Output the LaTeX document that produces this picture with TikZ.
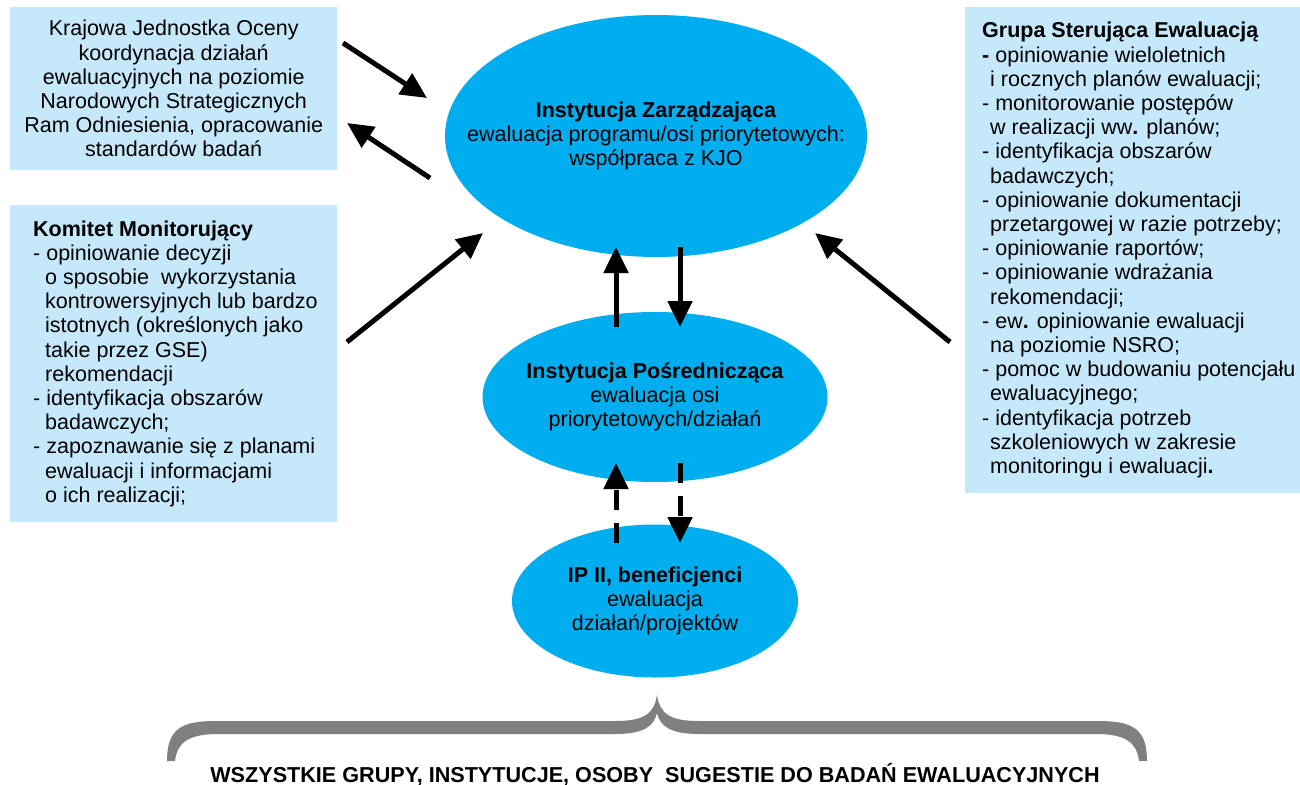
\documentclass[tikz,border=0pt]{standalone}
\usepackage{fontspec}
\setmainfont{Liberation Sans}
\usetikzlibrary{positioning,shapes.geometric,arrows.meta}
\tikzset{>=stealth}
\definecolor{zonecyan}{RGB}{0,174,239}
\definecolor{boxblue}{RGB}{197,232,250}
\definecolor{bracegray}{RGB}{128,128,128}
\tikzset{
  infobox/.style={fill=boxblue,inner sep=0pt,anchor=north west},
  zone/.style={ellipse,fill=zonecyan,inner sep=0pt},
  txt/.style={inner sep=0pt,font=\fontsize{21.5}{24.2}\selectfont},
  flow/.style={line width=5pt,-{Triangle[length=26pt,width=24pt]}},
  dflow/.style={flow,dash pattern=on 20pt off 13pt}
}
\newcommand{\indl}{\hspace*{12pt}}
\newcommand{\indr}{\hspace*{8pt}}

\begin{document}
\begin{tikzpicture}[x=1pt,y=-1pt]
\useasboundingbox (0,0) rectangle (1300,784);
\node[infobox,minimum width=327,minimum height=163] (kjo) at (10,7) {};
\node[txt,align=center] (kjotxt) at (kjo.center) {Krajowa Jednostka Oceny\\ koordynacja działań\\ ewaluacyjnych na poziomie\\ Narodowych Strategicznych\\ Ram Odniesienia, opracowanie\\ standardów badań};
\node[infobox,minimum width=327,minimum height=317] (km) at (10,205) {};
\node[txt,align=left,anchor=west] (kmtxt) at ([xshift=23]km.west) {\textbf{Komitet Monitorujący}\\
- opiniowanie decyzji\\
\indl o sposobie\ \ wykorzystania\\
\indl kontrowersyjnych lub bardzo\\
\indl istotnych (określonych jako\\
\indl takie przez GSE)\\
\indl rekomendacji\\
- identyfikacja obszarów\\
\indl badawczych;\\
- zapoznawanie się z planami\\
\indl ewaluacji i informacjami\\
\indl o ich realizacji;};
\node[infobox,minimum width=335,minimum height=486] (gse) at (965,7) {};
\node[txt,align=left,anchor=west] (gsetxt) at ([xshift=17]gse.west) {\textbf{Grupa Sterująca Ewaluacją}\\
\textbf{-} opiniowanie wieloletnich\\
\indr i rocznych planów ewaluacji;\\
- monitorowanie postępów\\
\indr w realizacji ww\textbf{.} planów;\\
- identyfikacja obszarów\\
\indr badawczych;\\
- opiniowanie dokumentacji\\
\indr przetargowej w razie potrzeby;\\
- opiniowanie raportów;\\
- opiniowanie wdrażania\\
\indr rekomendacji;\\
- ew\textbf{.} opiniowanie ewaluacji\\
\indr na poziomie NSRO;\\
- pomoc w budowaniu potencjału\\
\indr ewaluacyjnego;\\
- identyfikacja potrzeb\\
\indr szkoleniowych w zakresie\\
\indr monitoringu i ewaluacji\textbf{.}};
\node[zone,minimum width=422,minimum height=242] (iz) at (656,136) {};
\node[txt,align=center] (iztxt) at (iz.center) {\textbf{Instytucja Zarządzająca}\\ ewaluacja programu/osi priorytetowych:\\ współpraca z KJO};
\node[zone,minimum width=345,minimum height=170] (ip) at (655,397) {};
\node[txt,align=center] (iptxt) at (ip.center) {\textbf{Instytucja Pośrednicząca}\\ ewaluacja osi\\ priorytetowych/działań};
\node[zone,minimum width=286,minimum height=153] (ipii) at (655,601) {};
\node[txt,align=center] (ipiitxt) at (ipii.center) {\textbf{IP II, beneficjenci}\\ ewaluacja\\ działań/projektów};
\coordinate (kjoout) at (343,43);
\coordinate (izin) at (427,98);
\coordinate (izout) at (430,178);
\coordinate (kjoin) at (347,123);
\coordinate (kmout) at (347,342);
\coordinate (izkm) at (483,233);
\coordinate (gseout) at (950,342);
\coordinate (izgse) at (815,233);
\draw[flow] (kjoout) -- (izin);
\draw[flow] (izout) -- (kjoin);
\draw[flow] (kmout) -- (izkm);
\draw[flow] (gseout) -- (izgse);
\draw[flow] (616,327) -- (616,247);
\draw[flow] (680,247) -- (680,327);
\draw[dflow] (616,543) -- (616,463);
\draw[dflow] (680,463) -- (680,543);
\fill[bracegray] (167,761) -- (175,761) .. controls (177,743) and (188,734) .. (218,734) -- (615,734) .. controls (644,734) and (654,726) .. (657,713) .. controls (660,726) and (670,734) .. (699,734) -- (1096,734) .. controls (1126,734) and (1137,743) .. (1139,761) -- (1147,761) .. controls (1147,730) and (1134,721) .. (1099,721) -- (699,721) .. controls (670,721) and (660,714) .. (657,695) .. controls (654,714) and (644,721) .. (615,721) -- (215,721) .. controls (180,721) and (167,730) .. (167,761) -- cycle;
\node[anchor=base,inner sep=0pt,font=\fontsize{21.6}{24}\selectfont\bfseries] (all) at (655,782) {WSZYSTKIE GRUPY, INSTYTUCJE, OSOBY\ \ SUGESTIE DO BADAŃ EWALUACYJNYCH};
\end{tikzpicture}
\end{document}
